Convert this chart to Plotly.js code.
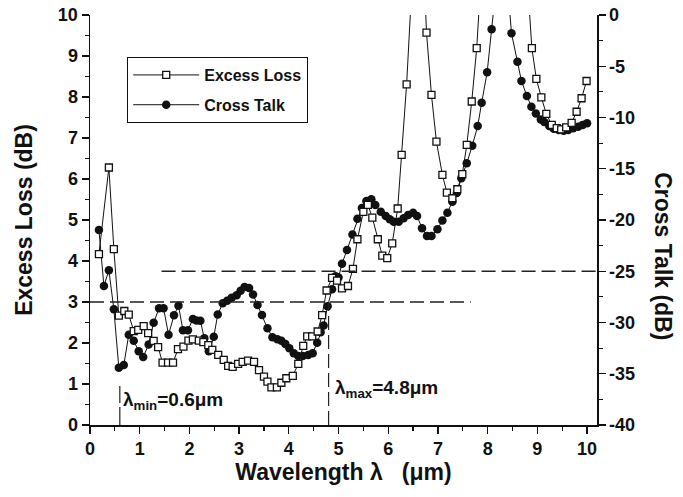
<!DOCTYPE html>
<html>
<head>
<meta charset="utf-8">
<script src="https://cdn.plot.ly/plotly-3.0.1.min.js"></script>
<style>
  html, body { margin: 0; padding: 0; background: #ffffff; }
  #chart { width: 683px; height: 497px; }
</style>
</head>
<body>
<div id="chart"></div>
<script>
// Wavelength samples (µm) and excess loss (dB) of the coupler
const wavelengthEL = [
  0.18, 0.38, 0.48, 0.58, 0.69, 0.78, 0.88, 0.97, 1.08, 1.17, 1.28, 1.37, 1.46, 1.57, 1.67, 1.77, 1.88, 1.98,
  2.07, 2.19, 2.28, 2.38, 2.46, 2.58, 2.69, 2.78, 2.87, 2.98,
  3.07, 3.18, 3.30, 3.40, 3.50, 3.57, 3.65, 3.76, 3.85, 3.95,
  4.08, 4.19, 4.29, 4.37, 4.47, 4.58, 4.67, 4.76, 4.87, 4.97,
  5.07, 5.19, 5.29, 5.38, 5.50, 5.59, 5.68, 5.79, 5.88, 5.98,
  6.08, 6.19, 6.27, 6.37, 6.47, 6.57, 6.67, 6.77, 6.87, 6.97,
  7.09, 7.18, 7.29, 7.39, 7.49, 7.58, 7.68, 7.78, 7.88, 7.98,
  8.08, 8.18, 8.28, 8.38, 8.48, 8.58, 8.68, 8.78, 8.89, 8.98,
  9.08, 9.18, 9.29, 9.39, 9.48, 9.58, 9.69, 9.79, 9.89, 9.99
];
const excessLoss = [
  4.17, 6.28, 4.29, 2.67, 2.78, 2.69, 2.29, 2.32, 2.41, 2.24, 2.05, 1.90, 1.52, 1.52, 1.52, 1.85, 1.91, 2.06,
  2.09, 2.06, 2.02, 1.95, 1.83, 1.71, 1.59, 1.44, 1.42, 1.49,
  1.54, 1.57, 1.54, 1.34, 1.18, 1.06, 0.92, 0.92, 1.03, 1.14,
  1.20, 1.49, 1.93, 2.16, 2.16, 2.28, 2.68, 3.28, 3.59, 3.52,
  3.33, 3.39, 3.81, 4.53, 5.20, 5.37, 5.06, 4.53, 4.13, 4.07,
  4.43, 5.28, 6.59, 8.31, 10.6, 12.0, 12.5, 9.57, 8.05, 6.91,
  6.10, 5.67, 5.53, 5.75, 6.12, 6.83, 7.89, 9.19, 11.2, 12.8,
  14.0, 14.8, 15.2, 15.0, 14.3, 13.3, 12.3, 11.2, 9.19, 8.44,
  7.99, 7.59, 7.32, 7.24, 7.21, 7.26, 7.37, 7.64, 7.97, 8.39
];

// Wavelength samples (µm) and cross talk (dB)
const wavelengthCT = [
  0.18, 0.28, 0.38, 0.48, 0.58, 0.68, 0.78, 0.88, 0.98, 1.07,
  1.18, 1.28, 1.39, 1.48, 1.58, 1.69, 1.78, 1.87, 1.97, 2.07,
  2.14, 2.22, 2.30, 2.39, 2.49, 2.57, 2.67, 2.76, 2.85, 2.95,
  3.03, 3.11, 3.20, 3.28, 3.37, 3.46, 3.57, 3.67, 3.77, 3.85,
  3.93, 4.01, 4.10, 4.19, 4.28, 4.39, 4.48, 4.57, 4.64, 4.70,
  4.78, 4.87, 4.94, 5.00, 5.07, 5.17, 5.28, 5.38, 5.47, 5.56, 5.66,
  5.74, 5.85, 5.95, 6.03, 6.11, 6.21, 6.31, 6.40, 6.50, 6.58,
  6.68, 6.78, 6.87, 6.99, 7.09, 7.19, 7.29, 7.38, 7.47, 7.58,
  7.69, 7.80, 7.88, 7.99, 8.08, 8.18, 8.28, 8.38, 8.48, 8.60,
  8.68, 8.79, 8.88, 8.97, 9.07, 9.14, 9.24, 9.33, 9.43, 9.53,
  9.62, 9.72, 9.82, 9.91, 10.00
];
const crossTalk = [
  -20.98, -26.44, -24.91, -28.71, -34.42, -34.15, -31.19, -31.78, -32.81, -33.37,
  -32.15, -30.03, -28.60, -28.60, -31.19, -29.30, -28.36, -30.75, -30.75, -29.66,
  -29.80, -29.82, -31.54, -32.80, -31.39, -29.22, -28.13, -27.88, -27.59, -27.35,
  -26.91, -26.54, -26.63, -27.27, -28.29, -29.27, -30.57, -31.44, -31.64, -31.78,
  -32.10, -32.52, -33.00, -33.27, -33.27, -33.17, -33.00, -31.97, -30.95, -30.29,
  -28.42, -26.76, -25.49, -25.60, -24.26, -22.93, -21.41, -19.88, -18.83, -18.15, -17.98,
  -18.54, -19.19, -19.61, -19.93, -20.17, -20.17, -19.83, -19.51, -19.29, -19.61,
  -20.81, -21.56, -21.56, -20.91, -20.05, -19.29, -18.21, -17.37, -15.93, -14.47,
  -12.75, -10.83, -8.56, -5.59, -1.40, 3.3, 5.0, 4.2, -1.79, -4.56,
  -6.44, -7.90, -8.95, -9.61, -10.20, -10.44, -10.83, -11.09, -11.22, -11.29,
  -11.22, -11.05, -10.90, -10.73, -10.57
];

// Axis tick labels
const xTickVals = [0, 1, 2, 3, 4, 5, 6, 7, 8, 9, 10];
const xTickText = ['0', '1', '2', '3', '4', '5', '6', '7', '8', '9', '10'];
const elTickVals = [0, 1, 2, 3, 4, 5, 6, 7, 8, 9, 10];
const elTickText = ['0', '1', '2', '3', '4', '5', '6', '7', '8', '9', '10'];
const ctTickVals = [-40, -35, -30, -25, -20, -15, -10, -5, 0];
const ctTickText = ['-40', '-35', '-30', '-25', '-20', '-15', '-10', '-5', '0'];

// Reference levels and band edges
const EL_LIMIT = 3;        // dB, excess loss threshold
const CT_LIMIT = -25;      // dB, cross talk threshold
const LAMBDA_MIN = 0.6;    // µm
const LAMBDA_MAX = 4.8;    // µm

const FONT = 'Liberation Sans, Arial, Helvetica, sans-serif';
const INK = '#111111';
const X_RANGE = [0, 10.2];

const traces = [
  {
    name: 'Excess Loss',
    legendgroup: 'el',
    x: wavelengthEL,
    y: excessLoss,
    xaxis: 'x',
    yaxis: 'y2',
    type: 'scatter',
    mode: 'lines+markers',
    line: { color: INK, width: 1 },
    marker: { symbol: 'square', size: 7, color: '#ffffff', line: { color: INK, width: 1.3 } }
  },
  {
    name: 'Cross Talk',
    legendgroup: 'ct',
    x: wavelengthCT,
    y: crossTalk,
    xaxis: 'x',
    yaxis: 'y',
    type: 'scatter',
    mode: 'lines+markers',
    line: { color: INK, width: 1 },
    marker: { symbol: 'circle', size: 8.5, color: INK, line: { width: 0 } }
  }
];

const tickFont = { family: FONT, size: 18, color: INK, weight: 'bold' };
const titleFont = { family: FONT, size: 23, color: INK, weight: 'bold' };
const noteFont = { family: FONT, size: 19, color: INK, weight: 'bold' };

const layout = {
  width: 683,
  height: 497,
  margin: { l: 90, r: 86, t: 15, b: 72 },
  paper_bgcolor: '#ffffff',
  plot_bgcolor: '#ffffff',
  font: { family: FONT, color: INK, size: 17 },
  showlegend: true,
  legend: {
    x: 0.073, y: 0.898, xanchor: 'left', yanchor: 'top',
    bgcolor: '#ffffff', bordercolor: INK, borderwidth: 1.2,
    font: { family: FONT, size: 16, color: INK, weight: 'bold' },
    traceorder: 'grouped', tracegroupgap: 6, itemwidth: 66
  },
  xaxis: {
    range: X_RANGE,
    tickmode: 'array', tickvals: xTickVals, ticktext: xTickText,
    ticks: 'outside', ticklen: 7, tickwidth: 1.3, tickcolor: INK,
    minor: { dtick: 0.5, tick0: 0, ticks: 'outside', ticklen: 4, tickwidth: 1.2, tickcolor: INK, showgrid: false },
    showline: true, linewidth: 1.5, linecolor: INK,
    showgrid: false, zeroline: false,
    tickfont: tickFont,
    title: { text: 'Wavelength λ\u00a0\u00a0 (μm)', font: titleFont, standoff: 1 }
  },
  xaxis2: {
    overlaying: 'x', side: 'top', anchor: 'y',
    range: X_RANGE,
    tickmode: 'array', tickvals: xTickVals,
    ticks: 'inside', ticklen: 5, tickwidth: 1.2, tickcolor: INK,
    minor: { dtick: 0.5, tick0: 0, ticks: 'inside', ticklen: 3, tickwidth: 1.1, tickcolor: INK, showgrid: false },
    showticklabels: false,
    showline: true, linewidth: 1.5, linecolor: INK,
    showgrid: false, zeroline: false
  },
  yaxis: {
    side: 'right',
    range: [-40, 0],
    tickmode: 'array', tickvals: ctTickVals, ticktext: ctTickText,
    ticks: 'outside', ticklen: 7, tickwidth: 1.3, tickcolor: INK,
    minor: { dtick: 2.5, tick0: 0, ticks: 'outside', ticklen: 4, tickwidth: 1.2, tickcolor: INK, showgrid: false },
    showline: true, linewidth: 1.5, linecolor: INK,
    showgrid: false, zeroline: false,
    tickfont: tickFont
  },
  yaxis2: {
    side: 'left', overlaying: 'y',
    range: [0, 10],
    tickmode: 'array', tickvals: elTickVals, ticktext: elTickText,
    ticks: 'outside', ticklen: 7, tickwidth: 1.3, tickcolor: INK,
    minor: { dtick: 0.5, tick0: 0, ticks: 'outside', ticklen: 4, tickwidth: 1.2, tickcolor: INK, showgrid: false },
    showline: true, linewidth: 1.5, linecolor: INK,
    showgrid: false, zeroline: false,
    tickfont: tickFont,
    title: { text: 'Excess Loss (dB)', font: titleFont, standoff: 19 }
  },
  shapes: [
    // excess-loss threshold
    { type: 'line', xref: 'x', yref: 'y2', x0: 0, x1: 7.66, y0: EL_LIMIT, y1: EL_LIMIT,
      line: { color: '#222222', width: 1.5, dash: '14px,6px' } },
    // cross-talk threshold
    { type: 'line', xref: 'x', yref: 'y', x0: 1.44, x1: X_RANGE[1], y0: CT_LIMIT, y1: CT_LIMIT,
      line: { color: '#222222', width: 1.5, dash: '14px,6px' } },
    // band edges
    { type: 'line', xref: 'x', yref: 'y2', x0: LAMBDA_MIN, x1: LAMBDA_MIN, y0: 0, y1: 0.95,
      line: { color: '#222222', width: 1.2, dash: '18px,4px' } },
    { type: 'line', xref: 'x', yref: 'y2', x0: LAMBDA_MAX, x1: LAMBDA_MAX, y0: 0, y1: EL_LIMIT,
      line: { color: '#222222', width: 1.2, dash: '14px,5px' } }
  ],
  annotations: [
    { xref: 'x', yref: 'y2', x: LAMBDA_MIN + 0.03, y: 0.58, xanchor: 'left', yanchor: 'middle',
      showarrow: false, text: 'λ<sub>min</sub>=' + LAMBDA_MIN.toFixed(1) + 'μm',
      font: noteFont },
    { xref: 'x', yref: 'y2', x: LAMBDA_MAX + 0.08, y: 0.88, xanchor: 'left', yanchor: 'middle',
      showarrow: false, text: 'λ<sub>max</sub>=' + LAMBDA_MAX.toFixed(1) + 'μm',
      font: noteFont },
    // right-hand axis title, reading top to bottom
    { xref: 'paper', yref: 'paper', x: 1.13, y: 0.412, xanchor: 'center', yanchor: 'middle',
      showarrow: false, textangle: 90, text: 'Cross Talk (dB)', font: titleFont }
  ]
};

Plotly.newPlot('chart', traces, layout, { displayModeBar: false, staticPlot: true });
</script>
</body>
</html>
